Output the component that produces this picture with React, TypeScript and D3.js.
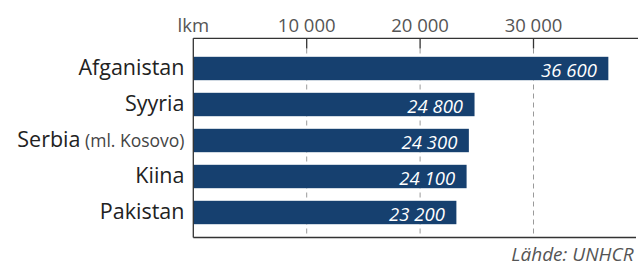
import React from "react";
import * as d3 from "d3";

const categories = ["Afganistan", "Syyria", "Serbia", "Kiina", "Pakistan"];
const categoryNotes = ["", "", "(ml. Kosovo)", "", ""];
const values = [36600, 24800, 24300, 24100, 23200];
const tickValues = [10000, 20000, 30000];
const unitLabel = "lkm";
const sourceLabel = "Lähde: UNHCR";

const W = 638;
const H = 267;
const FONT = "'Open Sans', sans-serif";
const BAR = "#16406f";

const fmt = (v: number) => d3.format(",")(v).replace(/,/g, " ");

export default function App() {
  const x = d3.scaleLinear().domain([0, 10000]).range([193.3, 306.7]);
  const y = d3.scaleBand<string>().domain(categories).range([40.6, 240.4]).paddingInner(0.35).paddingOuter(0.45);
  const axisY = 38.3;
  const bottomY = 237.5;
  const x0 = x(0);

  return (
    <svg width={W} height={H} style={{ position: "absolute", left: 0, top: 0, fontFamily: FONT }}>
      {tickValues.map((t) => (
        <g key={t}>
          <line x1={x(t)} x2={x(t)} y1={48.5} y2={bottomY} stroke="#9a9a9a" strokeWidth={1} strokeDasharray="5,4" />
          <line x1={x(t)} x2={x(t)} y1={axisY} y2={48.5} stroke="#333" strokeWidth={1.3} />
          <text x={x(t)} y={32} textAnchor="middle" fontSize={18.5} fill="#555">{fmt(t)}</text>
        </g>
      ))}
      <text x={x0} y={32} textAnchor="middle" fontSize={18.5} fill="#555">{unitLabel}</text>
      {categories.map((c, i) => {
        const yb = y(c)!;
        const cy = yb + y.bandwidth() / 2;
        return (
          <g key={c}>
            <rect x={x0} y={yb} width={x(values[i]) - x0} height={y.bandwidth()} fill={BAR} />
            <text x={x(values[i]) - 11.5} y={cy + 8} textAnchor="end" fontSize={18.5} fontStyle="italic" fill="#fff">{fmt(values[i])}</text>
            <text x={184.5} y={cy + 6} textAnchor="end" fill="#222" fontSize={21.5}>
              {c}
              {categoryNotes[i] ? <tspan fontSize={17.5} fill="#444">{" " + categoryNotes[i]}</tspan> : null}
            </text>
          </g>
        );
      })}
      <line x1={x0} x2={W} y1={axisY} y2={axisY} stroke="#333" strokeWidth={1.3} />
      <line x1={x0} x2={x0} y1={axisY} y2={bottomY} stroke="#333" strokeWidth={1.3} />
      <line x1={x0} x2={636} y1={bottomY} y2={bottomY} stroke="#333" strokeWidth={1.3} />
      <text x={633.5} y={261} textAnchor="end" fontSize={19} fontStyle="italic" fill="#555">{sourceLabel}</text>
    </svg>
  );
}
